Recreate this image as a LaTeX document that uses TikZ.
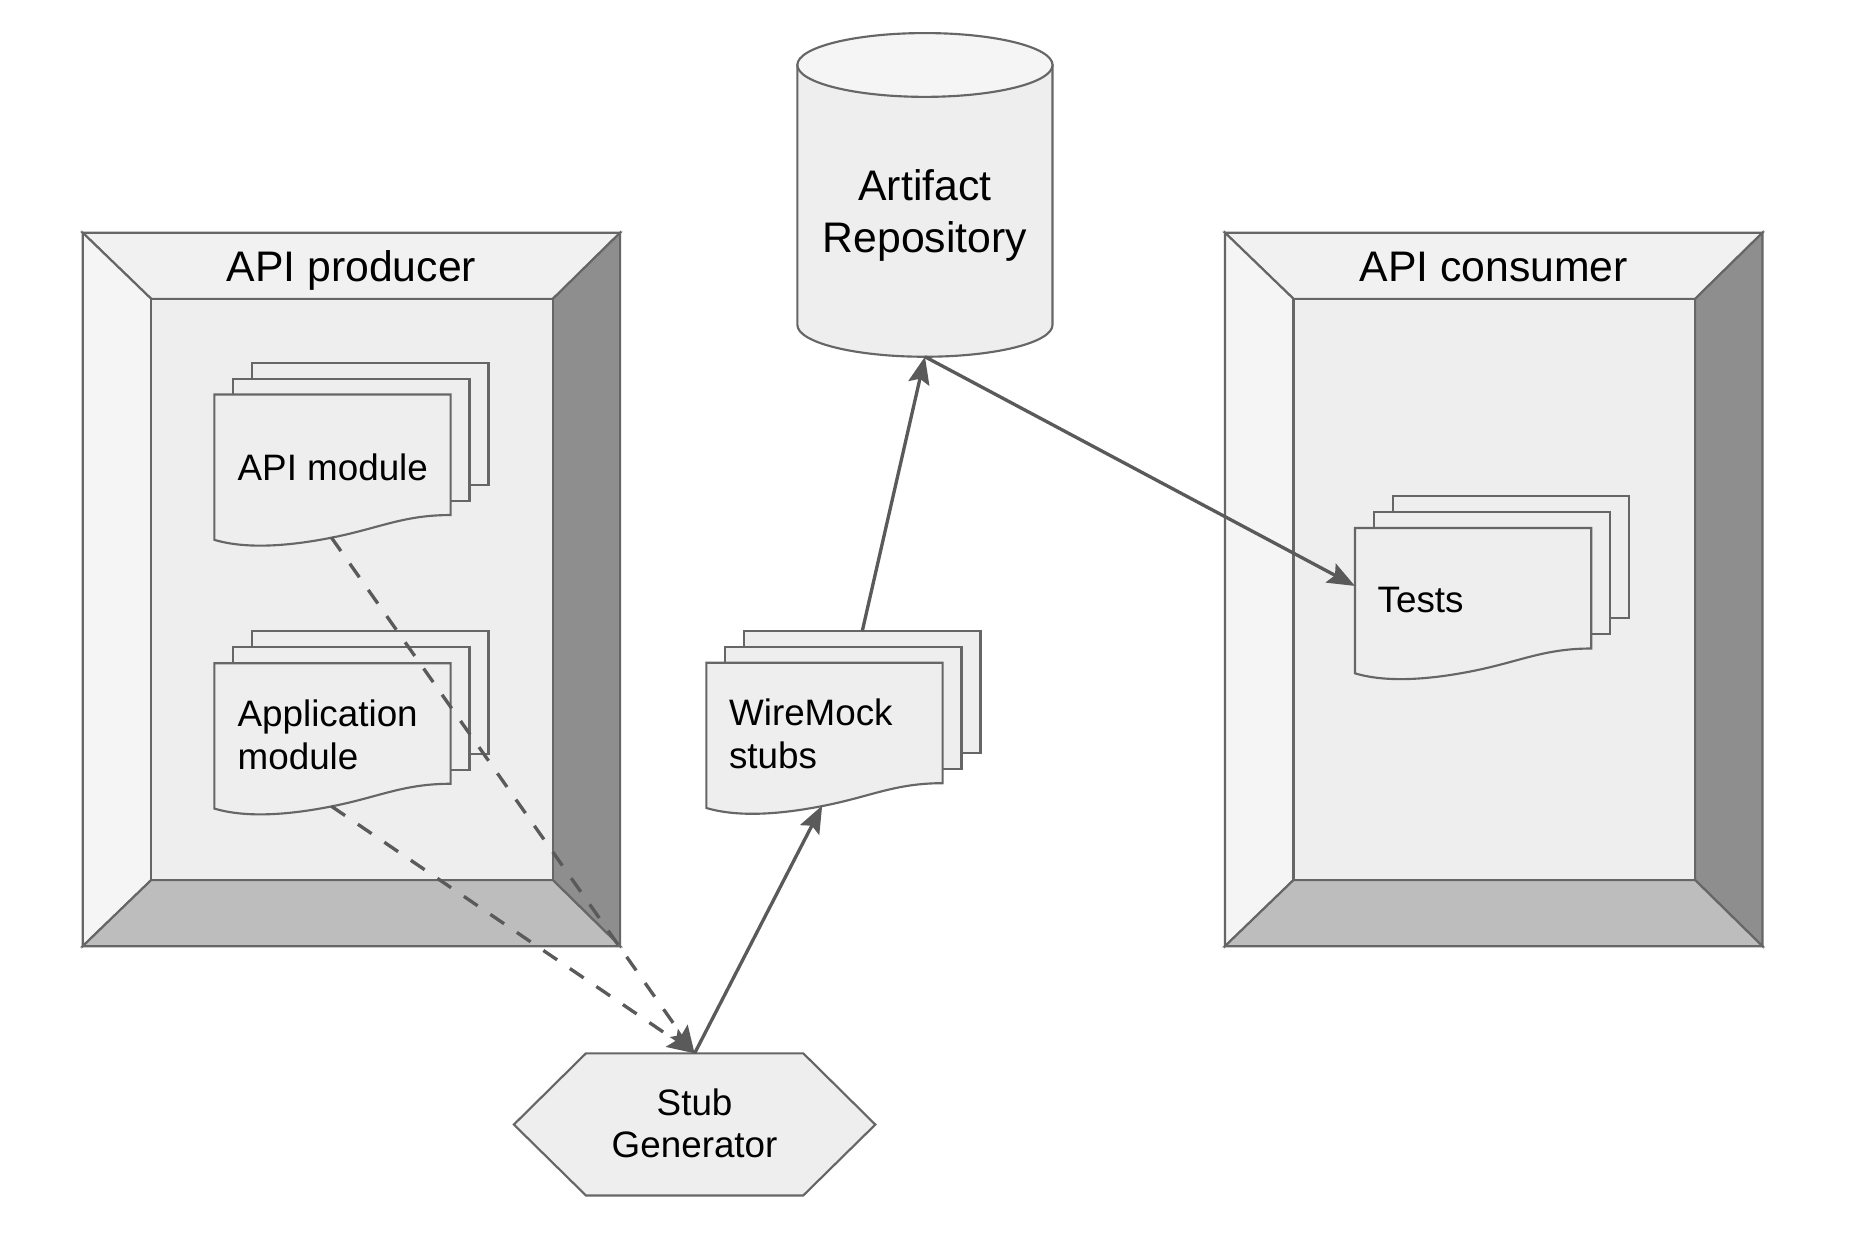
\documentclass[tikz,border=0pt]{standalone}
\usepackage{fontspec}
\setmainfont{Liberation Sans}
\usetikzlibrary{arrows.meta}
\definecolor{strokegray}{HTML}{666666}
\definecolor{arrowgray}{HTML}{5A5A5A}
\definecolor{fillgray}{HTML}{EEEEEE}
\definecolor{toplight}{HTML}{F1F1F1}
\definecolor{leftlight}{HTML}{F5F5F5}
\definecolor{rightdark}{HTML}{8E8E8E}
\definecolor{bottomgray}{HTML}{BDBDBD}
\definecolor{cyltop}{HTML}{F5F5F5}
\tikzset{
  shapestroke/.style={draw=strokegray, line width=1.8pt, line join=miter},
  docshape/.style={shapestroke, fill=fillgray},
  titletext/.style={inner sep=0pt, font=\fontsize{36}{43.5}\selectfont},
  doctext/.style={inner sep=0pt, font=\fontsize{31}{36}\selectfont},
  conn/.style={draw=arrowgray, line width=2.8pt, -{Stealth[length=23pt,width=18pt,inset=4pt]}},
  dashconn/.style={conn, dash pattern=on 14pt off 13pt},
}
\newcommand{\bevelframe}[4]{%
  \path[shapestroke,fill=toplight] (#1,#2) -- (#3,#2) -- (#3-57,#2+56) -- (#1+58,#2+56) -- cycle;
  \path[shapestroke,fill=leftlight] (#1,#2) -- (#1+58,#2+56) -- (#1+58,#4-56) -- (#1,#4) -- cycle;
  \path[shapestroke,fill=rightdark] (#3,#2) -- (#3,#4) -- (#3-57,#4-56) -- (#3-57,#2+56) -- cycle;
  \path[shapestroke,fill=bottomgray] (#1,#4) -- (#1+58,#4-56) -- (#3-57,#4-56) -- (#3,#4) -- cycle;
  \path[shapestroke,fill=fillgray] (#1+58,#2+56) rectangle (#3-57,#4-56);
}
\newcommand{\docstack}[2]{%
  \begin{scope}[shift={(#1,#2)}]
    \path[docshape] (32,-27) rectangle (232,76.5);
    \path[docshape] (16,-13.5) rectangle (216,90);
    \path[docshape] (0,0) -- (200,0) -- (200,102)
      .. controls (160,102) and (140,113) .. (100,121)
      .. controls (70,127) and (30,132) .. (0,123) -- cycle;
  \end{scope}%
}
\begin{document}
\begin{tikzpicture}[x=0.995pt,y=-0.995pt]
\useasboundingbox (0,0) rectangle (1567.8,1046.2);
\fill[white] (0,0) rectangle (1567.8,1046.2);

% frames
\bevelframe{70}{197}{525}{801}
\bevelframe{1037}{197}{1492}{801}
\node[titletext, anchor=base] (prodT) at (297.5,238) {API producer};
\node[titletext, anchor=base] (consT) at (1264.5,238) {API consumer};

% cylinder
\path[docshape] (675,55) -- (675,275)
  .. controls (675,289.9) and (723.4,302) .. (783,302)
  .. controls (842.6,302) and (891,289.9) .. (891,275) -- (891,55) -- cycle;
\path[shapestroke, fill=cyltop] (783,55) ellipse [x radius=108, y radius=27];
\node[titletext, anchor=base] (repo) at (783,170) {\begin{tabular}[t]{@{}c@{}}Artifact\\Repository\end{tabular}};

% documents
\docstack{181.5}{334}
\node[doctext, anchor=base west] (apimod) at (201,406.5) {API module};
\docstack{181.5}{561.5}
\node[doctext, anchor=base west] (appmod) at (201,615) {\begin{tabular}[t]{@{}l@{}}Application\\module\end{tabular}};
\docstack{598}{561}
\node[doctext, anchor=base west] (wm) at (617,614) {\begin{tabular}[t]{@{}l@{}}WireMock\\stubs\end{tabular}};
\docstack{1147}{447}
\node[doctext, anchor=base west] (tests) at (1166,518.5) {Tests};

% hexagon
\path[docshape] (435,952) -- (496,891.7) -- (680,891.7) -- (741,952) -- (680,1012) -- (496,1012) -- cycle;
\node[doctext, anchor=base] (stub) at (588,944) {\begin{tabular}[t]{@{}c@{}}Stub\\Generator\end{tabular}};

% connector end points
\coordinate (apiW) at (280.5,455);
\coordinate (appW) at (280.5,682.5);
\coordinate (wmW) at (696,682);
\coordinate (wmT) at (730,534);
\coordinate (testsL) at (1147,496);
\coordinate (repoB) at (783,302);
\coordinate (stubT) at (588,891.7);

% connectors
\draw[dashconn] (apiW) -- (stubT);
\draw[dashconn] (appW) -- (stubT);
\draw[conn] (stubT) -- (wmW);
\draw[conn] (wmT) -- (repoB);
\draw[conn] (repoB) -- (testsL);
\end{tikzpicture}
\end{document}
